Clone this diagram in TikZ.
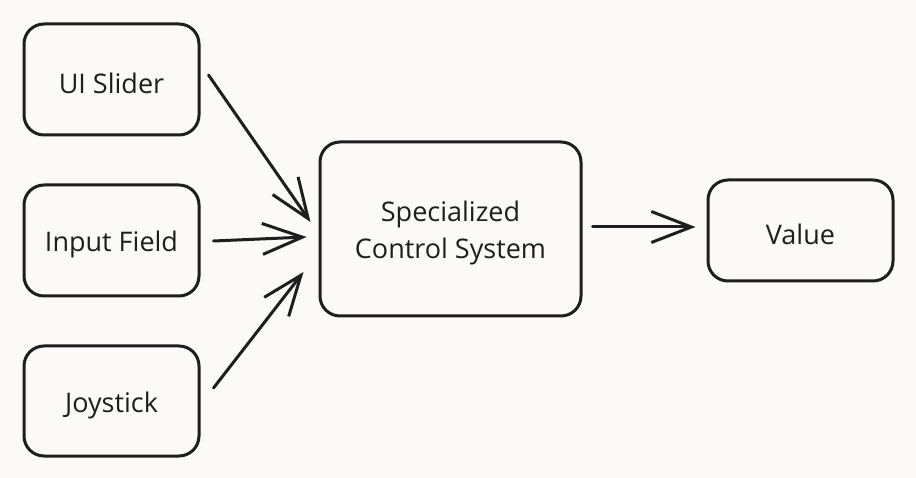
\documentclass[tikz,border=0pt]{standalone}
\usepackage{fontspec}
\setmainfont{Open Sans}
\usetikzlibrary{arrows.meta,calc}
\definecolor{bg}{RGB}{252,250,247}
\definecolor{ink}{RGB}{30,30,30}
\tikzset{
  box/.style={draw=ink, line width=3pt, rounded corners=20pt, inner sep=0pt},
  boxtext/.style={label={[text=ink, font=\fontsize{27}{37}\selectfont, align=center, yshift=-4pt]center:#1}},
  conn/.style={draw=ink, line width=3pt, line cap=round,
    -{Straight Barb[length=40pt,width=31pt,line width=3pt]}},
}
\begin{document}
\begin{tikzpicture}[x=1pt,y=-1pt]
\fill[bg] (0,0) rectangle (916,478);
\useasboundingbox (0,0) rectangle (916,478);
\node[box, minimum width=175pt, minimum height=111pt, boxtext={UI Slider}] (slider) at (111.5,79.5) {};
\node[box, minimum width=175pt, minimum height=111pt, boxtext={Input Field}] (input) at (111.5,240.5) {};
\node[box, minimum width=175pt, minimum height=110pt, boxtext={Joystick}] (joy) at (111.5,401) {};
\node[box, minimum width=261pt, minimum height=174pt, boxtext={Specialized\\Control System}] (scs) at (450.5,229) {};
\node[box, minimum width=185pt, minimum height=101pt, boxtext={Value}] (val) at (800.5,230.5) {};
\draw[conn] ($(slider.east)+(8,-4.5)$) -- ($(scs.west)+(-8,-7)$);
\draw[conn] ($(input.east)+(13,0.5)$) -- ($(scs.west)+(-12,8)$);
\draw[conn] ($(joy.east)+(13,-13)$) -- ($(scs.west)+(-15,43)$);
\draw[conn] ($(scs.east)+(10,-2)$) -- ($(val.west)+(-11,-3.5)$);
\end{tikzpicture}
\end{document}
